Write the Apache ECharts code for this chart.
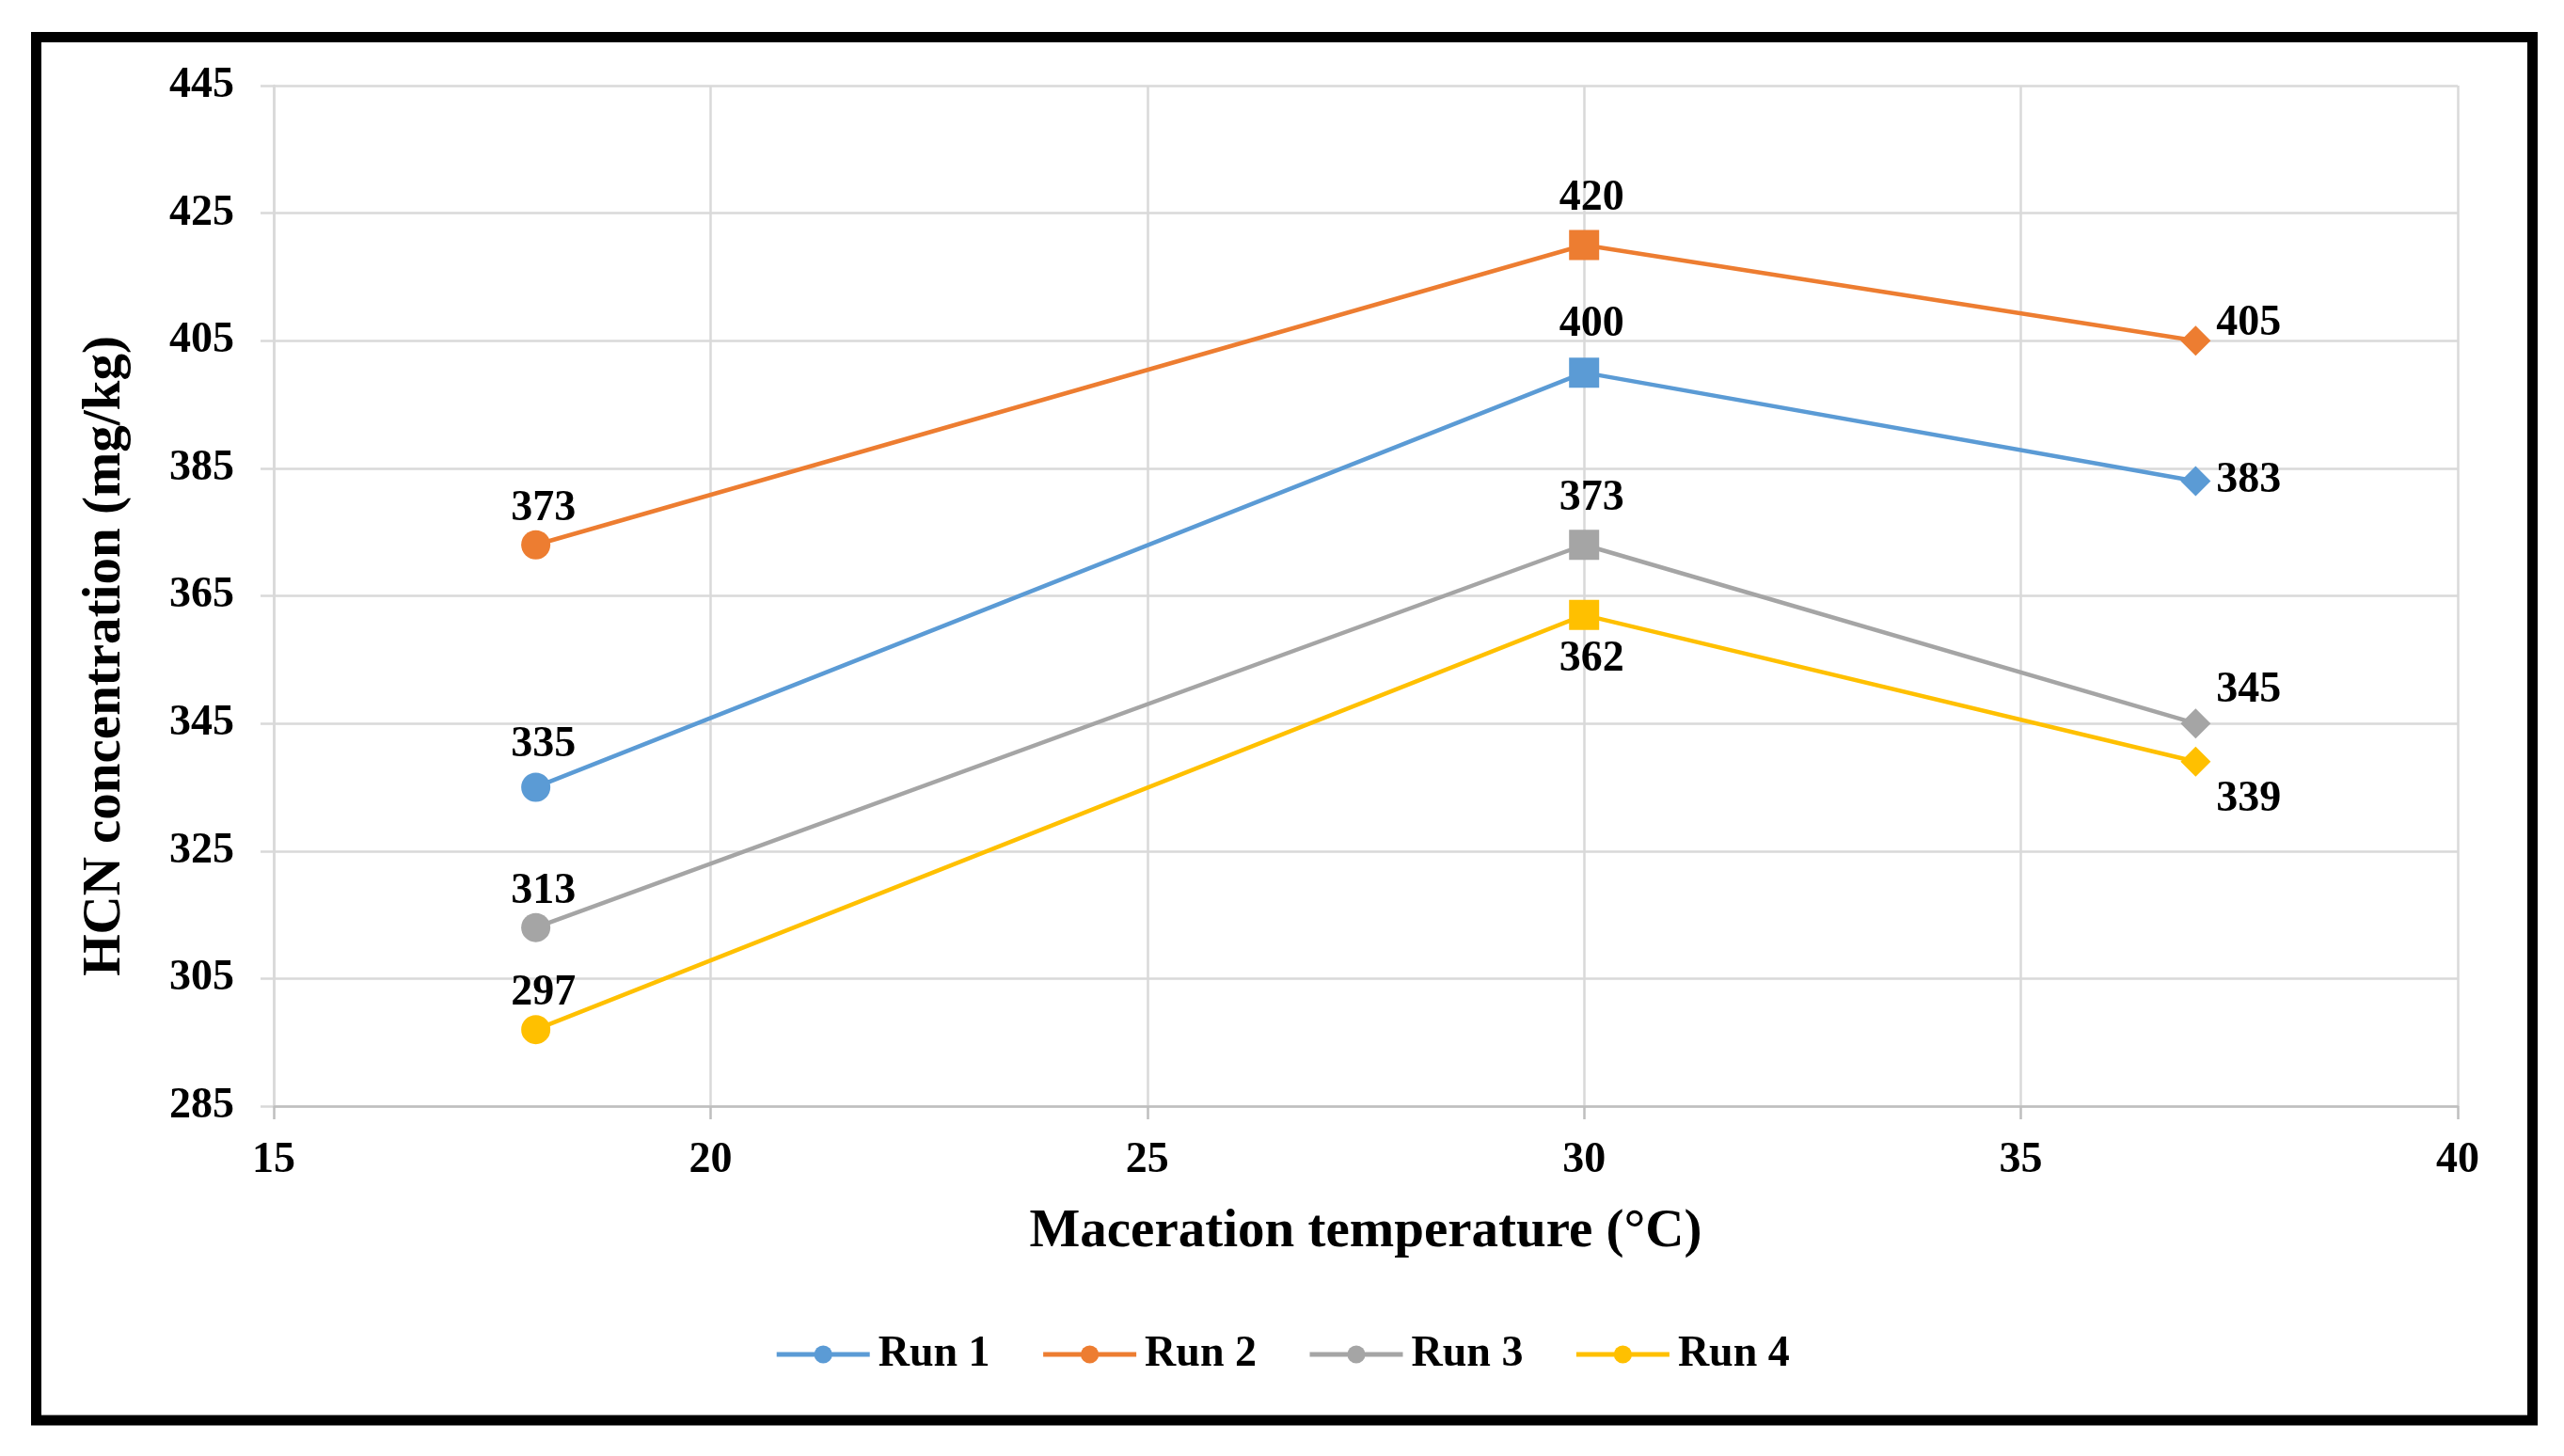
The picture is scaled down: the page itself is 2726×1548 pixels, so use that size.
<!DOCTYPE html>
<html>
<head>
<meta charset="utf-8">
<script src="https://cdn.jsdelivr.net/npm/echarts@6/dist/echarts.min.js"></script>
<style>
html,body{margin:0;padding:0;background:#fff;}
#chart{width:2726px;height:1548px;}
</style>
</head>
<body>
<div id="chart"></div>
<script>
// ---- data ----
const temperatures = [18, 30, 37];
const run1 = [335, 400, 383];
const run2 = [373, 420, 405];
const run3 = [313, 373, 345];
const run4 = [297, 362, 339];
const seriesNames = ['Run 1', 'Run 2', 'Run 3', 'Run 4'];
const xTicks = { min: 15, max: 40, interval: 5 };
const yTicks = { min: 285, max: 445, interval: 20 };

// ---- styles ----
const colors = ['#5B9BD5', '#ED7D31', '#A5A5A5', '#FFC000'];
const pointSymbols = ['circle', 'rect', 'diamond'];
const pointSizes = [31, 32, 32];
const FONT = "'Liberation Serif', 'Times New Roman', serif";
// label placement per series per point: [position, offset]
const labelPlacement = [
  [['top', [8, 0]], ['top', [8, -6]], ['right', [0, 0]]],
  [['top', [8, 6]], ['top', [8, -4]], ['right', [0, -18]]],
  [['top', [8, 6]], ['top', [8, -4]], ['right', [0, -35]]],
  [['top', [8, 6]], ['bottom', [8, 2]], ['right', [0, 40]]]
];

const allRuns = [run1, run2, run3, run4];

function buildData(values, si) {
  return values.map((v, i) => ({
    value: [temperatures[i], v],
    symbol: pointSymbols[i],
    symbolSize: pointSizes[i],
    label: {
      show: true,
      position: labelPlacement[si][i][0],
      offset: labelPlacement[si][i][1],
      distance: 6
    }
  }));
}

const series = allRuns.map((vals, si) => ({
  name: seriesNames[si],
  type: 'line',
  symbol: 'circle',
  symbolSize: 31,
  data: buildData(vals, si),
  lineStyle: { width: 4.5, color: colors[si] },
  itemStyle: { color: colors[si] },
  label: {
    show: true,
    color: '#000',
    fontFamily: FONT,
    fontWeight: 'bold',
    fontSize: 46,
    formatter: p => p.value[1]
  },
  emphasis: { disabled: true },
  animation: false
}));

const chart = echarts.init(document.getElementById('chart'));
chart.setOption({
  backgroundColor: '#ffffff',
  animation: false,
  color: colors,
  grid: { left: 291, right: 113, top: 91, bottom: 372, containLabel: false },
  graphic: [{
    type: 'rect',
    shape: { x: 38.5, y: 39.5, width: 2654, height: 1470.5 },
    style: { fill: 'none', stroke: '#000', lineWidth: 11 },
    z: 100
  }],
  legend: {
    data: seriesNames,
    bottom: 80,
    left: 'center',
    itemWidth: 99,
    itemHeight: 24,
    itemGap: 54,
    lineStyle: { width: 5 },
    textStyle: { fontFamily: FONT, fontWeight: 'bold', fontSize: 46, color: '#000', padding: [0, 0, 0, 4] }
  },
  xAxis: {
    type: 'value',
    min: xTicks.min, max: xTicks.max, interval: xTicks.interval,
    name: 'Maceration temperature (°C)',
    nameLocation: 'middle',
    nameGap: 106,
    nameTextStyle: { fontFamily: FONT, fontWeight: 'bold', fontSize: 57, color: '#000' },
    axisLine: { show: true, lineStyle: { color: '#bfbfbf', width: 2.5 } },
    axisTick: { show: true, length: 14, lineStyle: { color: '#bfbfbf', width: 2.5 } },
    axisLabel: { margin: 35, fontFamily: FONT, fontWeight: 'bold', fontSize: 46, color: '#000' },
    splitLine: { show: true, lineStyle: { color: '#d9d9d9', width: 2.5 } }
  },
  yAxis: {
    type: 'value',
    min: yTicks.min, max: yTicks.max, interval: yTicks.interval,
    name: 'HCN concentration (mg/kg)',
    nameLocation: 'middle',
    nameGap: 150,
    nameTextStyle: { fontFamily: FONT, fontWeight: 'bold', fontSize: 57, color: '#000', padding: [0, 128, 0, 0] },
    axisLine: { show: true, lineStyle: { color: '#d9d9d9', width: 2.5 } },
    axisTick: { show: true, length: 14, lineStyle: { color: '#d9d9d9', width: 2.5 } },
    axisLabel: { margin: 42, fontFamily: FONT, fontWeight: 'bold', fontSize: 46, color: '#000' },
    splitLine: { show: true, lineStyle: { color: '#d9d9d9', width: 2.5 } }
  },
  series: series
});
</script>
</body>
</html>
